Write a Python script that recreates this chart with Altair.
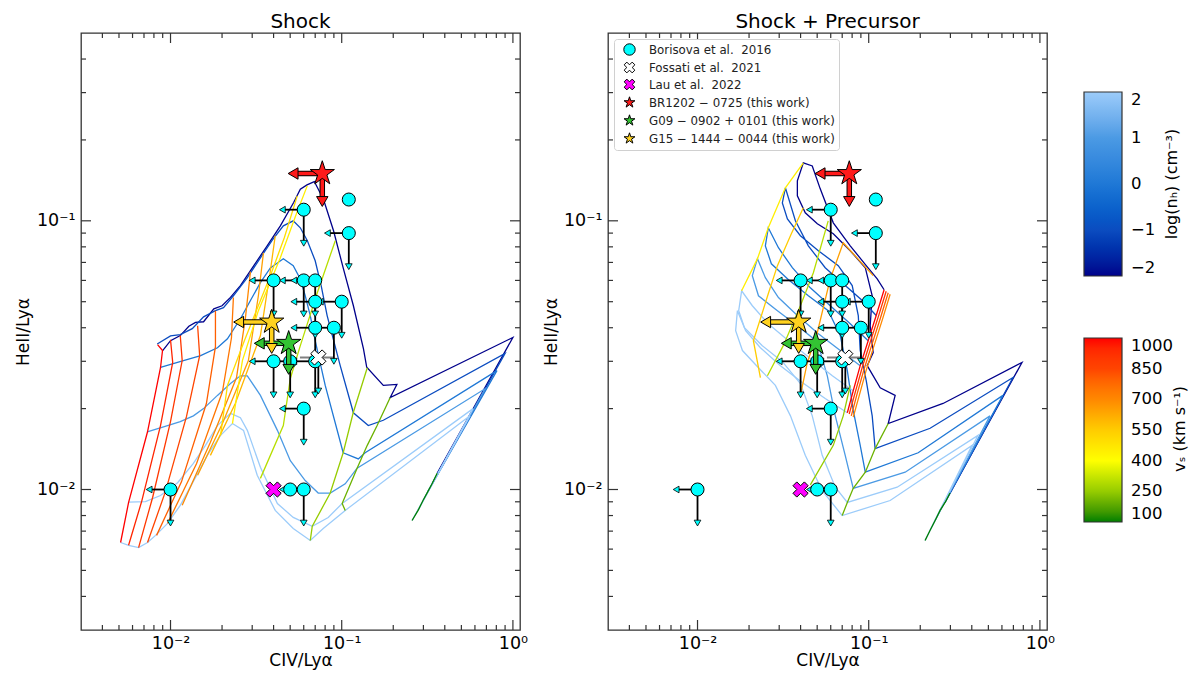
import altair as alt
import pandas as pd

# ======================= DATA =======================
# ---- Shock models: lines of constant log(nH) (CIV/Lya, HeII/Lya) ----
SH_N_M2 = [(0.0090,0.0329),(0.0100,0.0358),(0.0114,0.0374),(0.0128,0.0405),(0.0140,0.0419),(0.0156,0.0421),(0.0179,0.0470),(0.0200,0.0483),(0.0224,0.0519),(0.0256,0.0574),(0.0306,0.0680),(0.0367,0.0807),(0.0438,0.0958),(0.0524,0.117),(0.0573,0.131),(0.0627,0.136),(0.0692,0.140),(0.0783,0.120),(0.0896,0.0918),(0.102,0.0668),(0.117,0.0483),(0.134,0.0334),(0.140,0.0285),(0.175,0.0244),(0.210,0.0246),(0.192,0.0220),(1.0,0.0368),(0.361,0.0115)]
SH_N_M1 = [(0.00836,0.0348),(0.0100,0.0373),(0.0114,0.0377),(0.0134,0.0397),(0.0156,0.0439),(0.0183,0.0463),(0.0204,0.0475),(0.0233,0.0526),(0.0281,0.0614),(0.0335,0.0728),(0.0394,0.0850),(0.0456,0.0958),(0.0521,0.100),(0.0573,0.0942),(0.0630,0.0843),(0.0700,0.0710),(0.0759,0.0573),(0.0822,0.0444),(0.098,0.0289),(0.117,0.0193),(0.143,0.0173),(0.175,0.0181),(0.90,0.0321),(0.337,0.0105)]
SH_N_0 = [(0.00874,0.0285),(0.0119,0.0302),(0.0150,0.0315),(0.0188,0.0337),(0.0215,0.0364),(0.0256,0.0432),(0.0293,0.0505),(0.0335,0.0589),(0.0383,0.0668),(0.0456,0.0722),(0.0521,0.0681),(0.0573,0.0608),(0.0612,0.0526),(0.0655,0.0444),(0.0700,0.0358),(0.0801,0.0244),(0.102,0.0137),(0.125,0.0130),(0.137,0.0137),(0.807,0.0277),(0.319,0.00984)]
SH_N_1 = [(0.00731,0.0164),(0.00961,0.0173),(0.0114,0.0179),(0.0136,0.0188),(0.0156,0.0200),(0.0188,0.0224),(0.0224,0.0248),(0.0256,0.0265),(0.0281,0.0265),(0.0335,0.0224),(0.0421,0.0166),(0.0501,0.0128),(0.0612,0.0108),(0.0729,0.0097),(0.0857,0.0097),(0.1048,0.0105),(0.123,0.0120),(0.687,0.0237),(0.2985,0.0091)]
SH_N_2 = [(0.00571,0.00897),(0.00714,0.00902),(0.00874,0.0095),(0.0110,0.0106),(0.0136,0.0125),(0.0160,0.0146),(0.0188,0.0173),(0.0224,0.0192),(0.0256,0.0185),(0.0281,0.0166),(0.0335,0.0121),(0.0421,0.00887),(0.0521,0.00787),(0.0673,0.0073),(0.0834,0.00787),(0.1006,0.00887),(0.585,0.0200),(0.2793,0.00836)]
SH_N_3 = [(0.00511,0.00635),(0.00569,0.0062),(0.00651,0.00608),(0.00734,0.00635),(0.00818,0.00675),(0.00961,0.00748),(0.0114,0.00873),(0.0140,0.0111),(0.0164,0.0134),(0.0196,0.0159),(0.0230,0.0176),(0.0267,0.0166),(0.0321,0.0113),(0.0409,0.00836),(0.0521,0.00716),(0.0655,0.00646),(0.0780,0.00716),(0.1048,0.00836),(0.561,0.0188),(0.2576,0.00767)]

# ---- Shock models: lines of constant shock velocity (km/s) ----
SH_V1000 = [(0.0084,0.0346),(0.00898,0.0329),(0.00874,0.0284),(0.00734,0.0164),(0.00569,0.00895),(0.00511,0.00635)]
SH_V950 = [(0.0100,0.0361),(0.0103,0.0297),(0.00874,0.0173),(0.00678,0.00902),(0.00569,0.0062)]
SH_V900 = [(0.0114,0.0374),(0.0117,0.0302),(0.0100,0.0179),(0.00786,0.00934),(0.00651,0.00608)]
SH_V850 = [(0.0144,0.0407),(0.0148,0.0315),(0.0124,0.0187),(0.00935,0.00984),(0.00734,0.00635)]
SH_V800 = [(0.0183,0.0463),(0.0183,0.0340),(0.0162,0.0209),(0.0116,0.0107),(0.00829,0.00675)]
SH_V750 = [(0.0233,0.0518),(0.0227,0.0367),(0.0201,0.0231),(0.0142,0.0125),(0.00961,0.00748)]
SH_V700 = [(0.0293,0.0646),(0.0274,0.0436),(0.0243,0.0261),(0.0171,0.0150),(0.0117,0.00873)]
SH_V650 = [(0.0349,0.0760),(0.0326,0.0526),(0.0285,0.0302),(0.0201,0.0176),(0.0144,0.0113)]
SH_V600 = [(0.0409,0.0880),(0.0383,0.0652),(0.0335,0.0374),(0.0239,0.0209),(0.0171,0.0134)]
SH_V500 = [(0.0550,0.1238),(0.0462,0.0865),(0.0383,0.0625),(0.0270,0.0358),(0.0215,0.0244),(0.0196,0.0159)]
SH_V450 = [(0.0629,0.1349),(0.0543,0.1061),(0.0438,0.0729),(0.0326,0.0463),(0.0263,0.0302),(0.0230,0.0176)]
SH_V300 = [(0.0917,0.0843),(0.0720,0.0540),(0.0573,0.0343),(0.0501,0.0259),(0.0456,0.0173),(0.0335,0.0110)]
SH_V250 = [(0.141,0.0284),(0.1167,0.0193),(0.102,0.0137),(0.0857,0.0097),(0.0673,0.0073),(0.0655,0.00646)]
SH_V200 = [(0.192,0.0220),(0.161,0.0173),(0.141,0.0146),(0.123,0.0120),(0.1006,0.00887),(0.1048,0.00836)]
SH_V100 = [(0.361,0.0115),(0.337,0.0105),(0.319,0.00984),(0.2985,0.0091),(0.2793,0.00836),(0.2576,0.00767)]

# ---- Shock + Precursor models: constant log(nH) ----
PR_N_M2 = [(0.123,0.0554),(0.1121,0.0608),(0.0967,0.0681),(0.078,0.0807),(0.0621,0.0983),(0.0521,0.1315),(0.0468,0.160),(0.0415,0.1643),(0.0383,0.1409),(0.0383,0.1238),(0.0426,0.1071),(0.0501,0.0975),(0.0621,0.0895),(0.078,0.0774),(0.0955,0.0669),(0.1048,0.0526),(0.102,0.0407),(0.1062,0.0323),(0.098,0.0289),(0.1167,0.0239),(0.1427,0.0224),(0.130,0.0176),(0.2718,0.0209),(0.7854,0.0297),(0.2985,0.0097)]
PR_N_M1 = [(0.1106,0.0444),(0.0917,0.0505),(0.0729,0.0574),(0.0557,0.0669),(0.0444,0.0807),(0.0373,0.100),(0.0326,0.1327),(0.0313,0.1166),(0.0335,0.1017),(0.0399,0.0880),(0.0508,0.0774),(0.0664,0.0681),(0.0801,0.0574),(0.0869,0.0444),(0.0892,0.0329),(0.0967,0.0254),(0.1048,0.0188),(0.109,0.0142),(0.2284,0.0169),(0.6961,0.0261),(0.2793,0.00895)]
PR_N_0 = [(0.0993,0.0358),(0.078,0.0414),(0.0596,0.0483),(0.0456,0.0563),(0.0358,0.0669),(0.0297,0.0794),(0.0259,0.0942),(0.0249,0.0807),(0.0270,0.0692),(0.0340,0.0603),(0.0444,0.0526),(0.0580,0.0463),(0.0682,0.0374),(0.0750,0.0277),(0.0812,0.0197),(0.0892,0.0146),(0.0955,0.0116),(0.1945,0.0137),(0.6078,0.0224),(0.2612,0.00836)]
PR_N_1 = [(0.0892,0.0289),(0.0682,0.0329),(0.0508,0.0380),(0.0383,0.0444),(0.0297,0.0518),(0.0249,0.0614),(0.0224,0.0723),(0.0209,0.0625),(0.0227,0.0526),(0.0293,0.0463),(0.0383,0.0407),(0.0501,0.0355),(0.0573,0.0265),(0.0638,0.0188),(0.0729,0.0134),(0.0812,0.0101),(0.1633,0.0116),(0.5110,0.0188),(0.2443,0.00767)]
PR_N_2 = [(0.0812,0.0233),(0.0613,0.0265),(0.0456,0.0307),(0.0340,0.0358),(0.0259,0.0414),(0.0209,0.0483),(0.0181,0.0549),(0.0174,0.0463),(0.0188,0.0400),(0.0239,0.0343),(0.0313,0.0299),(0.0399,0.0248),(0.0468,0.0188),(0.0535,0.0134),(0.0638,0.0102),(0.0750,0.00895),(0.1466,0.0102),(0.4348,0.0159),(0.2284,0.00705)]
PR_N_3 = [(0.0750,0.0193),(0.0557,0.0218),(0.0409,0.0250),(0.0305,0.0289),(0.0233,0.0337),(0.0191,0.0390),(0.0171,0.0463),(0.0167,0.0390),(0.0183,0.0329),(0.0227,0.0284),(0.0285,0.0244),(0.0349,0.0188),(0.0426,0.0134),(0.0535,0.0099),(0.0700,0.0080),(0.1334,0.0091),(0.4013,0.0146),(0.2134,0.00646)]

# ---- Shock + Precursor models: constant velocity ----
PR_V1000 = [(0.123,0.0554),(0.1106,0.0444),(0.0993,0.0358),(0.0892,0.0289),(0.0812,0.0233),(0.075,0.0193)]
PR_V900 = [(0.1265,0.0547),(0.1136,0.0438),(0.102,0.0353),(0.0917,0.0285),(0.0834,0.0230),(0.0769,0.0191)]
PR_V800 = [(0.130,0.0540),(0.1167,0.0432),(0.1048,0.0349),(0.0942,0.0282),(0.0857,0.0228),(0.0791,0.0188)]
PR_V700 = [(0.1334,0.0533),(0.1199,0.0427),(0.1076,0.0344),(0.0967,0.0278),(0.0881,0.0224),(0.0812,0.0186)]
PR_V650 = [(0.1062,0.0625),(0.0710,0.0828),(0.0596,0.0608),(0.0501,0.0384),(0.0438,0.0297),(0.0399,0.0224)]
PR_V550 = [(0.0415,0.1118),(0.0349,0.0880),(0.0293,0.0681),(0.0259,0.0535),(0.0233,0.0432),(0.0212,0.0358),(0.0233,0.0261)]
PR_V450 = [(0.0415,0.1643),(0.0326,0.1327),(0.0259,0.0942),(0.0224,0.0723),(0.0181,0.0549)]
PR_V300 = [(0.0580,0.100),(0.0475,0.0641),(0.0399,0.0483),(0.0317,0.0343),(0.0256,0.0265)]
PR_V250 = [(0.078,0.0244),(0.0710,0.0188),(0.0621,0.0146),(0.0456,0.0104)]
PR_V200 = [(0.130,0.0176),(0.109,0.0142),(0.0955,0.0116),(0.0812,0.0101),(0.075,0.00895),(0.070,0.0080)]
PR_V100 = [(0.2985,0.0097),(0.2793,0.00895),(0.2612,0.00836),(0.2443,0.00767),(0.2284,0.00705),(0.2134,0.00646)]

SH_DENSITY = [(-2, SH_N_M2), (-1, SH_N_M1), (0, SH_N_0), (1, SH_N_1), (2, SH_N_2), (3, SH_N_3)]
SH_VELOCITY = [(1000, SH_V1000), (950, SH_V950), (900, SH_V900), (850, SH_V850), (800, SH_V800),
               (750, SH_V750), (700, SH_V700), (650, SH_V650), (600, SH_V600), (500, SH_V500),
               (450, SH_V450), (300, SH_V300), (250, SH_V250), (200, SH_V200), (100, SH_V100)]
PR_DENSITY = [(-2, PR_N_M2), (-1, PR_N_M1), (0, PR_N_0), (1, PR_N_1), (2, PR_N_2), (3, PR_N_3)]
PR_VELOCITY = [(1000, PR_V1000), (900, PR_V900), (800, PR_V800), (700, PR_V700), (650, PR_V650),
               (550, PR_V550), (450, PR_V450), (300, PR_V300), (250, PR_V250), (200, PR_V200), (100, PR_V100)]

# ---- observations ----
BORISOVA_X = [0.06, 0.11, 0.11, 0.04, 0.06, 0.07, 0.07, 0.10, 0.07, 0.09, 0.04, 0.05, 0.07, 0.06, 0.01, 0.05, 0.06]
BORISOVA_Y = [0.11, 0.12, 0.09, 0.06, 0.06, 0.06, 0.05, 0.05, 0.04, 0.04, 0.03, 0.03, 0.03, 0.02, 0.01, 0.01, 0.01]
BORISOVA_UPPER = [1, 0, 1, 1, 1, 1, 1, 1, 1, 1, 1, 1, 1, 1, 1, 0, 1]
FOSSATI_X = [0.073]
FOSSATI_Y = [0.031]
FOSSATI_X_LO = [0.057]
FOSSATI_X_HI = [0.089]
LAU_X = [0.04]
LAU_Y = [0.01]
STAR_NAMES = ["BR1202 − 0725 (this work)", "G09 − 0902 + 0101 (this work)", "G15 − 1444 − 0044 (this work)"]
STAR_X = [0.077, 0.049, 0.039]
STAR_Y = [0.150, 0.035, 0.042]
STAR_X_ARROW_END = [0.052, 0.033, 0.025]
STAR_Y_ARROW_END = [0.118, 0.028, 0.0335]
STAR_COLORS = ["#ff1a1a", "#33c433", "#ffd21f"]

SRC = ["Borisova et al.\u00a0 2016", "Fossati et al.\u00a0 2021", "Lau et al.\u00a0 2022"] + STAR_NAMES

XMAJ = [0.01, 0.1, 1.0]
XMIN = [0.004, 0.005, 0.006, 0.007, 0.008, 0.009, 0.02, 0.03, 0.04, 0.05, 0.06, 0.07, 0.08, 0.09,
        0.2, 0.3, 0.4, 0.5, 0.6, 0.7, 0.8, 0.9]
YMAJ = [0.01, 0.1]
YMIN = [0.004, 0.005, 0.006, 0.007, 0.008, 0.009, 0.02, 0.03, 0.04, 0.05, 0.06, 0.07, 0.08, 0.09, 0.2, 0.3, 0.4]

NH_DOMAIN = [-2, -1, 0, 1, 2]
NH_COLORS = ["#00008b", "#0b4cc0", "#1f78d6", "#4b9ae4", "#9cccfa"]
VS_DOMAIN = [100, 250, 400, 550, 700, 850, 1000]
VS_COLORS = ["#007f00", "#96cc00", "#ffff00", "#ffcc00", "#ff8800", "#ff4400", "#ff0000"]
CBAR_TITLES = ["log(nₕ) (cm⁻³)", "vₛ (km s⁻¹)"]
PANEL_TITLES = ["Shock", "Shock + Precursor"]

STAR_PATH = "M0,-1L0.2245,-0.309L0.951,-0.309L0.3633,0.118L0.588,0.809L0,0.382L-0.588,0.809L-0.3633,0.118L-0.951,-0.309L-0.2245,-0.309Z"
X_PATH = "M-0.471,-0.943L0,-0.471L0.471,-0.943L0.943,-0.471L0.471,0L0.943,0.471L0.471,0.943L0,0.471L-0.471,0.943L-0.943,0.471L-0.471,0L-0.943,-0.471Z"
SHAPES = ["circle", X_PATH, X_PATH, STAR_PATH, STAR_PATH, STAR_PATH]
FILLS = ["#00ffff", "#ffffff", "#ff00ff"] + STAR_COLORS

FONT = "DejaVu Sans"
W, H = 439, 597
MAJOR_LEN, MINOR_LEN = 10, 5

# ======================= FRAMES =======================
def line_frame(groups, key):
    rows = []
    for val, pts in groups:
        for i, (x, y) in enumerate(pts):
            rows.append({key: val, "i": i, "x": x, "y": y})
    return pd.DataFrame(rows)

arrow_rows = []
for x, y, lim in zip(BORISOVA_X, BORISOVA_Y, BORISOVA_UPPER):
    if lim:
        arrow_rows.append({"x": x, "y": y, "x2": x * 0.75, "y2": y, "shape": "triangle-left"})
        arrow_rows.append({"x": x, "y": y, "x2": x, "y2": y * 0.75, "shape": "triangle-down"})
for x, y in zip(FOSSATI_X, FOSSATI_Y):
    arrow_rows.append({"x": x, "y": y, "x2": x, "y2": y * 0.75, "shape": "triangle-down"})
arrow_df = pd.DataFrame(arrow_rows)

fos_err_df = pd.DataFrame({"x": FOSSATI_X_LO, "x2": FOSSATI_X_HI, "y": FOSSATI_Y})

obs_rows = []
for x, y in zip(BORISOVA_X, BORISOVA_Y):
    obs_rows.append({"src": SRC[0], "x": x, "y": y, "ms": 170})
for x, y in zip(FOSSATI_X, FOSSATI_Y):
    obs_rows.append({"src": SRC[1], "x": x, "y": y, "ms": 260})
for x, y in zip(LAU_X, LAU_Y):
    obs_rows.append({"src": SRC[2], "x": x, "y": y, "ms": 260})
obs_df = pd.DataFrame(obs_rows)

star_df = pd.DataFrame({"src": STAR_NAMES, "x": STAR_X, "y": STAR_Y, "ms": [650, 650, 650]})
star_arrow_rows = []
for x, y, xe, ye, c in zip(STAR_X, STAR_Y, STAR_X_ARROW_END, STAR_Y_ARROW_END, STAR_COLORS):
    star_arrow_rows.append({"x": x, "y": y, "x2": xe, "y2": y, "c": c, "shape": "triangle-left"})
    star_arrow_rows.append({"x": x, "y": y, "x2": x, "y2": ye, "c": c, "shape": "triangle-down"})
star_arrow_df = pd.DataFrame(star_arrow_rows)

xmaj_df = pd.DataFrame({"v": XMAJ})
xmin_df = pd.DataFrame({"v": XMIN})
ymaj_df = pd.DataFrame({"v": YMAJ})
ymin_df = pd.DataFrame({"v": YMIN})

# ======================= CHART =======================
XS = alt.Scale(type="log", domain=[0.003, 1.1], nice=False)
YS = alt.Scale(type="log", domain=[0.003, 0.5], nice=False)
XEXPR = "datum.value < 0.05 ? '10⁻²' : (datum.value < 0.5 ? '10⁻¹' : '10⁰')"
YEXPR = "datum.value < 0.05 ? '10⁻²' : '10⁻¹'"


def label_axis(orient, values, expr, title, title_pad, label_pad):
    return alt.Axis(orient=orient, values=values, ticks=False, tickSize=0, domain=False, grid=False,
                    labels=True, labelExpr=expr, labelFontSize=17.5, labelColor="black", labelFont=FONT,
                    labelOverlap=False, labelPadding=label_pad, labelFlush=False, title=title,
                    titleFontSize=17, titleFontWeight="normal", titleColor="black", titleFont=FONT,
                    titlePadding=title_pad)


def tick_layers():
    out = []
    for df, ln in ((xmaj_df, MAJOR_LEN), (xmin_df, MINOR_LEN)):
        out.append(alt.Chart(df).mark_rule(color="#333333", strokeWidth=1.2).encode(
            x=alt.X("v:Q", scale=XS, axis=None), y=alt.value(0), y2=alt.value(ln)))
        out.append(alt.Chart(df).mark_rule(color="#333333", strokeWidth=1.2).encode(
            x=alt.X("v:Q", scale=XS, axis=None), y=alt.value(H - ln), y2=alt.value(H)))
    for df, ln in ((ymaj_df, MAJOR_LEN), (ymin_df, MINOR_LEN)):
        out.append(alt.Chart(df).mark_rule(color="#333333", strokeWidth=1.2).encode(
            y=alt.Y("v:Q", scale=YS, axis=None), x=alt.value(0), x2=alt.value(ln)))
        out.append(alt.Chart(df).mark_rule(color="#333333", strokeWidth=1.2).encode(
            y=alt.Y("v:Q", scale=YS, axis=None), x=alt.value(W - ln), x2=alt.value(W)))
    return out


def grad_legend(ly, values, expr=None, fmt=None):
    kw = dict(orient="none", legendX=476, legendY=ly, direction="vertical", gradientLength=184,
              gradientThickness=38, values=values, labelFontSize=16.5, labelColor="black", labelFont=FONT,
              labelOffset=9, labelOverlap=False, title=None, gradientStrokeColor="#333333",
              gradientStrokeWidth=1.2, padding=0)
    if expr:
        kw["labelExpr"] = expr
    if fmt:
        kw["format"] = fmt
    return alt.Legend(**kw)


def panel(title, dens_groups, vel_groups, legends, ytitle_pad):
    nh_scale = alt.Scale(domain=NH_DOMAIN, range=NH_COLORS, clamp=True)
    vs_scale = alt.Scale(domain=VS_DOMAIN, range=VS_COLORS, clamp=True)
    src_shape = alt.Scale(domain=SRC, range=SHAPES)
    src_fill = alt.Scale(domain=SRC, range=FILLS)
    if legends:
        nh_leg = grad_legend(59, NH_DOMAIN, expr="replace(datum.label, '-', '−')")
        vs_leg = grad_legend(305, VS_DOMAIN, fmt="d")
        obs_leg = alt.Legend(orient="top-left", offset=6, title=None, fillColor="white",
                             strokeColor="#d0d0d0", padding=4, cornerRadius=3, labelFontSize=11.8,
                             labelColor="#222222", labelFont=FONT, labelLimit=400, symbolSize=130,
                             symbolStrokeColor="black", symbolStrokeWidth=1, rowPadding=2,
                             labelOffset=13, symbolOffset=5)
    else:
        nh_leg = vs_leg = obs_leg = None

    dens = alt.Chart(line_frame(dens_groups, "nH")).mark_line(strokeWidth=1.3, clip=True).encode(
        x=alt.X("x:Q", scale=XS, axis=label_axis("bottom", XMAJ, XEXPR, "CIV/Lyα", 1, 4)),
        y=alt.Y("y:Q", scale=YS, axis=label_axis("left", YMAJ, YEXPR, "HeII/Lyα", ytitle_pad, 6)),
        color=alt.Color("nH:Q", scale=nh_scale, legend=nh_leg),
        detail="nH:N",
        order="i:Q",
    )
    vel = alt.Chart(line_frame(vel_groups, "vs")).mark_line(strokeWidth=1.3, clip=True).encode(
        x=alt.X("x:Q", scale=XS, axis=None),
        y=alt.Y("y:Q", scale=YS, axis=None),
        stroke=alt.Stroke("vs:Q", scale=vs_scale, legend=vs_leg),
        detail="vs:N",
        order="i:Q",
    )
    shafts = alt.Chart(arrow_df).mark_rule(color="black", strokeWidth=1.8).encode(
        x=alt.X("x:Q", scale=XS, axis=None), y=alt.Y("y:Q", scale=YS, axis=None),
        x2="x2:Q", y2="y2:Q",
    )
    fos_err = alt.Chart(fos_err_df).mark_rule(color="#808080", strokeWidth=1.8).encode(
        x=alt.X("x:Q", scale=XS, axis=None), x2="x2:Q", y=alt.Y("y:Q", scale=YS, axis=None),
    )
    heads = alt.Chart(arrow_df).mark_point(filled=True, fill="#00ffff", stroke="black", strokeWidth=0.8,
                                           size=45, opacity=1).encode(
        x=alt.X("x2:Q", scale=XS, axis=None), y=alt.Y("y2:Q", scale=YS, axis=None),
        shape=alt.Shape("shape:N", scale=None),
    )
    markers = alt.Chart(obs_df).mark_point(filled=True, stroke="black", strokeWidth=1, opacity=1).encode(
        x=alt.X("x:Q", scale=XS, axis=None),
        y=alt.Y("y:Q", scale=YS, axis=None),
        shape=alt.Shape("src:N", scale=src_shape, legend=obs_leg),
        fill=alt.Fill("src:N", scale=src_fill, legend=obs_leg),
        size=alt.Size("ms:Q", scale=None),
    )
    s_outline = alt.Chart(star_arrow_df).mark_rule(color="black", strokeWidth=5.5).encode(
        x=alt.X("x:Q", scale=XS, axis=None), y=alt.Y("y:Q", scale=YS, axis=None), x2="x2:Q", y2="y2:Q",
    )
    s_shaft = alt.Chart(star_arrow_df).mark_rule(strokeWidth=3.5).encode(
        x=alt.X("x:Q", scale=XS, axis=None), y=alt.Y("y:Q", scale=YS, axis=None), x2="x2:Q", y2="y2:Q",
        color=alt.Color("c:N", scale=None),
    )
    s_heads = alt.Chart(star_arrow_df).mark_point(filled=True, stroke="black", strokeWidth=1, size=130,
                                                  opacity=1).encode(
        x=alt.X("x2:Q", scale=XS, axis=None), y=alt.Y("y2:Q", scale=YS, axis=None),
        shape=alt.Shape("shape:N", scale=None),
        fill=alt.Fill("c:N", scale=None),
    )
    stars = alt.Chart(star_df).mark_point(filled=True, stroke="black", strokeWidth=1, opacity=1).encode(
        x=alt.X("x:Q", scale=XS, axis=None),
        y=alt.Y("y:Q", scale=YS, axis=None),
        shape=alt.Shape("src:N", scale=src_shape, legend=obs_leg),
        fill=alt.Fill("src:N", scale=src_fill, legend=obs_leg),
        size=alt.Size("ms:Q", scale=None),
    )
    ttl = alt.Chart(pd.DataFrame({"t": [title]})).mark_text(
        fontSize=20, font=FONT, color="black", align="center", baseline="alphabetic"
    ).encode(x=alt.value(W / 2), y=alt.value(-5), text="t:N")
    layers = [dens, vel, shafts, fos_err, heads, markers, s_outline, s_shaft, s_heads, stars, ttl] + tick_layers()
    if legends:
        t1 = alt.Chart(pd.DataFrame({"t": [CBAR_TITLES[0]]})).mark_text(
            angle=270, fontSize=16, font=FONT, color="black", align="center", baseline="middle"
        ).encode(x=alt.value(564), y=alt.value(151), text="t:N")
        t2 = alt.Chart(pd.DataFrame({"t": [CBAR_TITLES[1]]})).mark_text(
            angle=270, fontSize=16, font=FONT, color="black", align="center", baseline="middle"
        ).encode(x=alt.value(572), y=alt.value(396), text="t:N")
        layers += [t1, t2]
    return alt.layer(*layers).resolve_axis(x="independent", y="independent").properties(width=W, height=H)


left = panel(PANEL_TITLES[0], SH_DENSITY, SH_VELOCITY, False, 4)
right = panel(PANEL_TITLES[1], PR_DENSITY, PR_VELOCITY, True, 3)

chart = alt.hconcat(left, right, spacing=12).resolve_scale(
    color="independent", stroke="independent", fill="independent", shape="independent", size="independent"
).properties(
    padding={"left": 5, "top": 3, "right": 0, "bottom": 0}
).configure(font=FONT).configure_view(stroke="#333333", strokeWidth=1.3)

chart.save("out.html", embed_options={"renderer": "svg", "actions": False})
